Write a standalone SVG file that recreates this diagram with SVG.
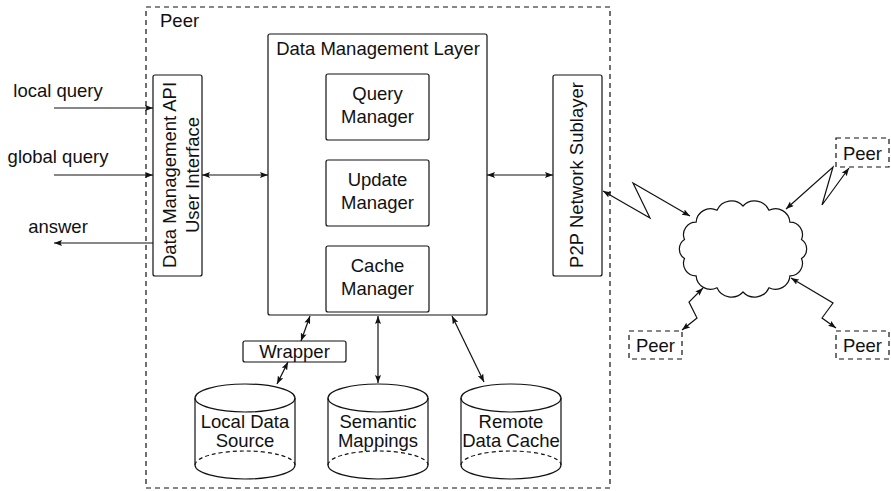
<svg xmlns="http://www.w3.org/2000/svg" width="891" height="491" viewBox="0 0 891 491">
<defs>
<style>
text{font-family:"Liberation Sans",Arial,sans-serif;font-size:18.5px;fill:#111}
.c{text-anchor:middle}
.box{fill:#fff;stroke:#111;stroke-width:1.2}
.dash{fill:none;stroke:#111;stroke-width:1.2;stroke-dasharray:5 4}
.ln{fill:none;stroke:#111;stroke-width:1.2}
.ar{fill:none;stroke:#111;stroke-width:1.2;marker-end:url(#ah)}
.ar2{fill:none;stroke:#111;stroke-width:1.2;marker-start:url(#ah);marker-end:url(#ah)}
</style>
<marker id="ah" viewBox="0 0 8 6" refX="8" refY="3" markerWidth="8" markerHeight="6" markerUnits="userSpaceOnUse" orient="auto-start-reverse">
<path d="M0,0 L8,3 L0,6 L1.5,3 z" fill="#111"/>
</marker>
</defs>

<g id="peer-main">
<rect x="146" y="7" width="464" height="481" class="dash"/>
<text x="160" y="27">Peer</text>
</g>

<g id="inputs">
<text x="58" y="97" class="c">local query</text>
<text x="58" y="163" class="c">global query</text>
<text x="58" y="233" class="c">answer</text>
</g>

<g id="api">
<rect x="153" y="75" width="49" height="201" rx="2" class="box"/>
<text transform="translate(176,175) rotate(-90)" class="c">Data Management API</text>
<text transform="translate(199,175) rotate(-90)" class="c">User Interface</text>
</g>

<g id="dml">
<rect x="268" y="34" width="219" height="281" rx="2" class="box"/>
<text x="378" y="55" class="c">Data Management Layer</text>
</g>
<g id="query-manager">
<rect x="326" y="74" width="103" height="66" rx="2" class="box"/>
<text x="377.5" y="100" class="c">Query</text>
<text x="377.5" y="123" class="c">Manager</text>
</g>
<g id="update-manager">
<rect x="326" y="160" width="103" height="66" rx="2" class="box"/>
<text x="377.5" y="186" class="c">Update</text>
<text x="377.5" y="209" class="c">Manager</text>
</g>
<g id="cache-manager">
<rect x="326" y="246" width="103" height="66" rx="2" class="box"/>
<text x="377.5" y="272" class="c">Cache</text>
<text x="377.5" y="295" class="c">Manager</text>
</g>

<g id="p2p">
<rect x="553" y="75" width="49" height="201" rx="2" class="box"/>
<text transform="translate(583,175) rotate(-90)" class="c">P2P Network Sublayer</text>
</g>

<g id="wrapper">
<rect x="243" y="341" width="103" height="21" rx="2" class="box"/>
<text x="294.5" y="357.5" class="c">Wrapper</text>
</g>

<g id="local-data-source">
<path d="M195,398 L195,465 A50,14 0 0 0 295,465 L295,398" class="ln"/>
<path d="M195,465 A50,14 0 0 1 295,465" class="ln" stroke-dasharray="4 3"/>
<ellipse cx="245" cy="398" rx="50" ry="14" class="ln"/>
<text x="245" y="428" class="c">Local Data</text>
<text x="245" y="447" class="c">Source</text>
</g>

<g id="semantic-mappings">
<path d="M328,398 L328,465 A50,14 0 0 0 428,465 L428,398" class="ln"/>
<path d="M328,465 A50,14 0 0 1 428,465" class="ln" stroke-dasharray="4 3"/>
<ellipse cx="378" cy="398" rx="50" ry="14" class="ln"/>
<text x="378" y="428" class="c">Semantic</text>
<text x="378" y="447" class="c">Mappings</text>
</g>

<g id="remote-data-cache">
<path d="M461,398 L461,465 A50,14 0 0 0 561,465 L561,398" class="ln"/>
<path d="M461,465 A50,14 0 0 1 561,465" class="ln" stroke-dasharray="4 3"/>
<ellipse cx="511" cy="398" rx="50" ry="14" class="ln"/>
<text x="511" y="428" class="c">Remote</text>
<text x="511" y="447" class="c">Data Cache</text>
</g>

<g id="cloud">
<path class="ln" fill="#fff" d="M743,206 A15.8,15.8 0 0 1 769,210.3 A14.4,14.4 0 0 1 789.9,222.2 A12.4,12.4 0 0 1 801.5,239.4 A11.5,11.5 0 0 1 801.5,258.6 A12.4,12.4 0 0 1 789.9,275.8 A14.4,14.4 0 0 1 769,287.7 A15.8,15.8 0 0 1 743,292 A15.8,15.8 0 0 1 717,287.7 A14.4,14.4 0 0 1 696.1,275.8 A12.4,12.4 0 0 1 684.5,258.6 A11.5,11.5 0 0 1 684.5,239.4 A12.4,12.4 0 0 1 696.1,222.2 A14.4,14.4 0 0 1 717,210.3 A15.8,15.8 0 0 1 743,206 Z"/>
</g>

<g id="peer-tr">
<rect x="836" y="138" width="53" height="29" class="dash"/>
<text x="862.5" y="160" class="c">Peer</text>
</g>
<g id="peer-bl">
<rect x="629" y="331" width="53" height="28" class="dash"/>
<text x="655.5" y="352" class="c">Peer</text>
</g>
<g id="peer-br">
<rect x="836" y="331" width="53" height="28" class="dash"/>
<text x="862.5" y="352" class="c">Peer</text>
</g>

<g id="connectors">
<line x1="54" y1="108" x2="153" y2="108" class="ar"/>
<line x1="54" y1="175" x2="153" y2="175" class="ar"/>
<line x1="153" y1="243" x2="54" y2="243" class="ar"/>
<line x1="202" y1="175" x2="268" y2="175" class="ar2"/>
<line x1="487" y1="175" x2="553" y2="175" class="ar2"/>
<line x1="310" y1="316" x2="301" y2="341" class="ar2"/>
<line x1="288" y1="362" x2="277" y2="384" class="ar2"/>
<line x1="378" y1="316" x2="378" y2="383" class="ar2"/>
<line x1="452" y1="316" x2="484" y2="382" class="ar2"/>
<polyline points="603,191 650,218 633,183 690,216" class="ar2"/>
<polyline points="786,209 833,167 822,205 849,168" class="ar2"/>
<polyline points="682,330 697,318 689,302 703,288" class="ar2"/>
<polyline points="791,278 833,303 822,318 836,328" class="ar2"/>
</g>
</svg>
